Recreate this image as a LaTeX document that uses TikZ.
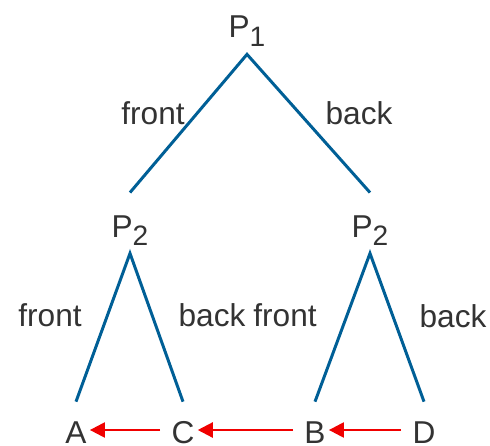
\documentclass[tikz,border=0pt]{standalone}
\usepackage{fontspec}
\setmainfont{Liberation Sans}
\usetikzlibrary{arrows.meta}
\definecolor{Branch}{RGB}{0,95,150}
\definecolor{Ink}{RGB}{51,51,51}
\definecolor{Swap}{RGB}{240,0,0}
\newcommand{\pl}[1]{P\raisebox{-5pt}{\fontsize{16}{16}\selectfont #1}}

\begin{document}
\begin{tikzpicture}[x=.02cm,y=-.02cm,
 every node/.style={text=Ink,font=\fontsize{18}{21}\selectfont},
 pn/.style={anchor=base,inner xsep=0pt,inner ysep=.32cm,text height=16pt,text depth=0pt},
 leaf/.style={anchor=base,inner xsep=0pt,inner ysep=0pt,text height=.82cm,text depth=0pt},
 br/.style={Branch,line width=1.7pt},
 sw/.style={-{Triangle[length=.3cm,width=.3cm]},Swap,line width=1.3pt,shorten <=.22cm,shorten >=.06cm}]
\useasboundingbox (0,0) rectangle (490,446);
\node[pn] (p1) at (247,38) {\pl{1}};
\node[pn] (p2l) at (130,237) {\pl{2}};
\node[pn] (p2r) at (370,237) {\pl{2}};
\node[leaf] (a) at (76,443) {A};
\node[leaf] (c) at (183,443) {C};
\node[leaf] (b) at (315,443) {B};
\node[leaf] (d) at (424,443) {D};
% branch labels
\node (f1) at (153,113) {front};
\node (k1) at (359,113) {back};
\node (f2) at (50,315) {front};
\node (k2) at (212,315) {back};
\node (f3) at (285,315) {front};
\node (k3) at (453,316) {back};
\draw[br] (p2l.north) -- (p1.south) -- (p2r.north);
\draw[br] (a.north) -- (p2l.south) -- (c.north);
\draw[br] (b.north) -- (p2r.south) -- (d.north);
% order of the leaves
\draw[sw] ([yshift=-.15cm]d.west) -- ([yshift=-.15cm]b.east);
\draw[sw] ([yshift=-.15cm]b.west) -- ([yshift=-.15cm]c.east);
\draw[sw] ([yshift=-.15cm]c.west) -- ([yshift=-.15cm]a.east);
\end{tikzpicture}
\end{document}
